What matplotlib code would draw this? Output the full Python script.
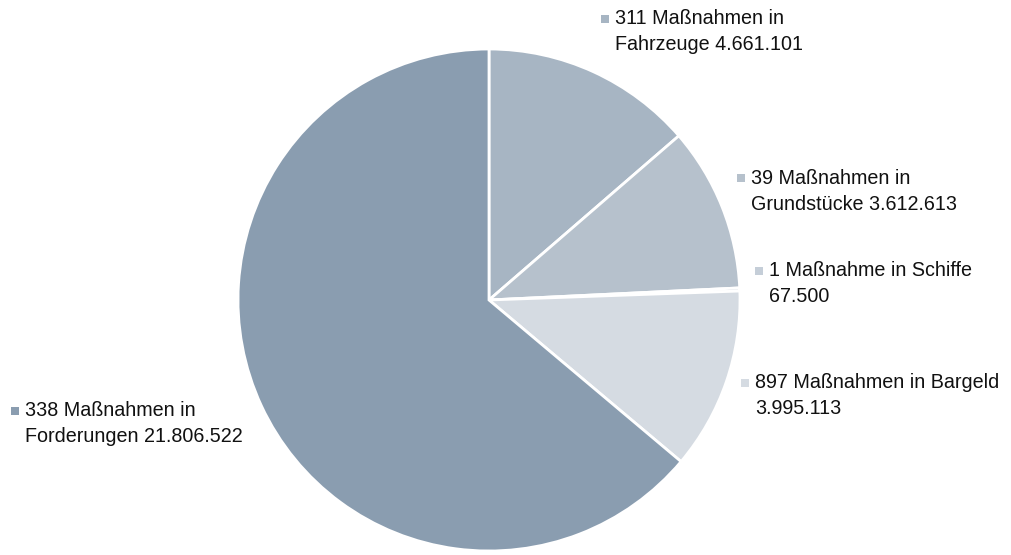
import matplotlib.pyplot as plt

plt.rcParams['font.family'] = ['Liberation Sans', 'DejaVu Sans']

# Werte (im Uhrzeigersinn ab 12 Uhr)
kategorien = ['Fahrzeuge', 'Grundstücke', 'Schiffe', 'Bargeld', 'Forderungen']
werte = [4661101, 3612613, 67500, 3995113, 21806522]
massnahmen = [311, 39, 1, 897, 338]
farben = ['#A7B5C3', '#B6C1CC', '#C5CED8', '#D5DBE2', '#8A9DB0']

zeile1 = ['311 Maßnahmen in', '39 Maßnahmen in', '1 Maßnahme in Schiffe',
          '897 Maßnahmen in Bargeld', '338 Maßnahmen in']
zeile2 = ['Fahrzeuge 4.661.101', 'Grundstücke 3.612.613', '67.500',
          '3.995.113', 'Forderungen 21.806.522']
# Position des Markers (Pixel, von oben)
label_pos = [(605, 19), (741, 178), (759, 271), (745, 383), (15, 411)]

W, H = 1012, 555
fig = plt.figure(figsize=(W / 100, H / 100), dpi=100)
ax = fig.add_axes([0, 0, 1, 1])
ax.set_xlim(0, W)
ax.set_ylim(0, H)
ax.set_aspect('equal')
ax.axis('off')

ax.pie(werte, colors=farben, startangle=90, counterclock=False,
       center=(489, H - 300), radius=251,
       wedgeprops=dict(edgecolor='white', linewidth=2))
ax.set_xlim(0, W)
ax.set_ylim(0, H)

for z1, z2, (x, y), c in zip(zeile1, zeile2, label_pos, farben):
    ax.plot(x, H - y, marker='s', markersize=6, color=c, markeredgewidth=0)
    ax.text(x + 10, H - y, z1, fontsize=14.2, va='center', ha='left',
            color='#111111')
    ax.text(x + 10, H - y - 26, z2, fontsize=14.2, va='center', ha='left',
            color='#111111')

plt.savefig('out.png', dpi=100)
